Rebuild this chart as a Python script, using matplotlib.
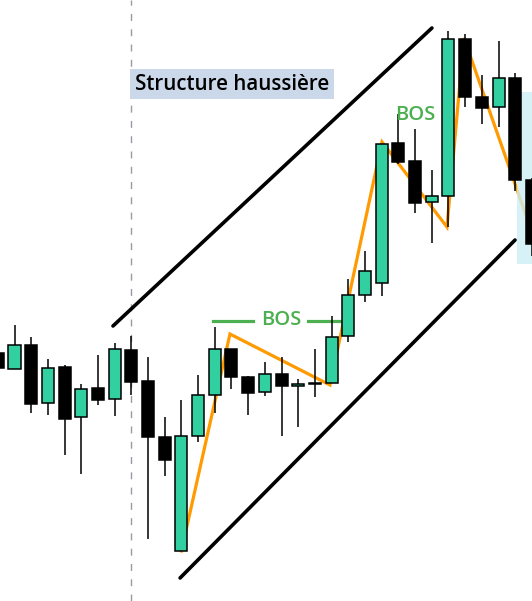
import matplotlib.pyplot as plt
import numpy as np

# Candle data (index, open, high, low, close) - arbitrary price units
idx    = list(range(-1, 32))
opens  = [248, 232, 256, 198, 234, 184, 213, 202, 251, 220, 164, 50, 165, 206, 252, 224, 209,
          227, 215, 218, 218, 265, 306, 318, 458, 440, 399, 405, 562, 504, 494, 523, 421]
highs  = [251, 276, 264, 242, 236, 217, 246, 258, 265, 244, 184, 201, 226, 274, 252, 225, 239,
          244, 222, 252, 285, 322, 350, 457, 487, 472, 431, 570, 567, 526, 560, 528, 423]
lows   = [231, 232, 188, 186, 146, 127, 196, 185, 206, 62, 125, 50, 159, 188, 212, 186, 205,
          165, 174, 204, 218, 259, 299, 305, 437, 388, 358, 374, 494, 477, 474, 410, 345]
closes = [233, 256, 197, 233, 182, 212, 201, 252, 219, 164, 141, 165, 206, 252, 224, 208, 227,
          215, 217, 217, 264, 306, 330, 457, 439, 398, 405, 562, 504, 493, 523, 421, 357]

# swing structure (zigzag)
swing_x = [10, 12.91, 18.9, 22.02, 25.91, 26.93, 31.5]
swing_y = [50, 267, 216, 459, 374, 563, 345]

# channel
upper_x, upper_y = [5.90, 25.01], [275, 573]
lower_x, lower_y = [9.92, 29.99], [23, 361]

green = '#32D0A0'
bos_green = '#4CAF50'
orange = '#FF9A00'

fig = plt.figure(figsize=(5.32, 6.01), dpi=100)
ax = fig.add_axes([0, 0, 1, 1])
ax.set_xlim(-0.869, 31.006)
ax.set_ylim(0, 601)
ax.axis('off')

# dashed session line
ax.axvline(7, color='#9A9AA5', lw=1.0, linestyle=(0, (5, 6)), zorder=1)

# zigzag
ax.plot(swing_x, swing_y, color=orange, lw=2.3, zorder=2, solid_joinstyle='miter')

# highlight box on the right
ax.fill_between([30.09, 32], 337, 509, color='#CDEFF4', alpha=0.8, lw=0, zorder=3)

# candles
o = np.array(opens); c = np.array(closes)
cols = [green if cc > oo else 'black' for oo, cc in zip(opens, closes)]
ax.vlines(idx, lows, highs, color='black', lw=1.1, zorder=4)
ax.bar(idx, np.maximum(np.abs(c - o), 1), bottom=np.minimum(o, c), width=0.72,
       color=cols, edgecolor='black', linewidth=1.1, zorder=5)

# channel lines
ax.plot(upper_x, upper_y, color='black', lw=2.6, solid_capstyle='round', zorder=6)
ax.plot(lower_x, lower_y, color='black', lw=2.6, solid_capstyle='round', zorder=6)

# BOS markers
ax.plot([11.87, 14.31], [280, 280], color=bos_green, lw=2.3, zorder=3)
ax.plot([17.58, 19.62], [280, 280], color=bos_green, lw=2.3, zorder=3)
ax.text(15.97, 281, 'BOS', color=bos_green, fontsize=14.5, family='Open Sans',
        fontweight='semibold', ha='center', va='center', zorder=7)
ax.text(24.0, 486, 'BOS', color=bos_green, fontsize=14.5, family='Open Sans',
        fontweight='semibold', ha='center', va='center', zorder=7)

ax.text(7.2, 517, 'Structure haussière', fontsize=14.8, family='Open Sans',
        fontweight='semibold', ha='left', va='center', zorder=7,
        bbox=dict(facecolor='#CBD8E9', edgecolor='none', pad=3.5))

fig.savefig('out.png', dpi=100, facecolor='white')
